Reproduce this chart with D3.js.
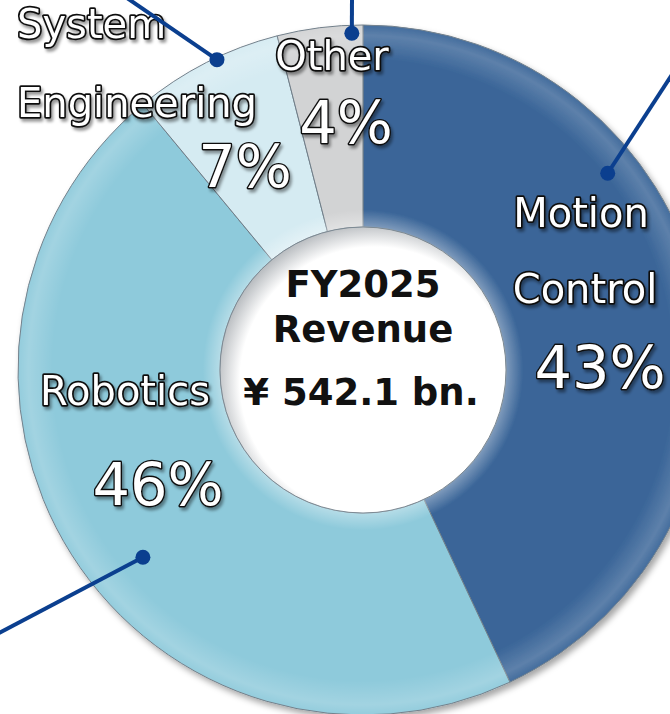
<!DOCTYPE html>
<html lang="en">
<head>
    <meta charset="UTF-8">
    <title>FY2025 Revenue by Segment</title>
    <style>
        body {
            margin: 0;
            padding: 0;
            background: #ffffff;
            overflow: hidden;
        }
        .seg-label {
            font-family: "DejaVu Sans", Verdana, sans-serif;
            fill: #ffffff;
            stroke: #111111;
            stroke-width: 3.4px;
            paint-order: stroke;
            stroke-linejoin: round;
        }
        .center-label {
            font-family: "DejaVu Sans", Verdana, sans-serif;
            font-weight: bold;
            fill: #111111;
            text-anchor: middle;
        }
    </style>
</head>
<body>
    <svg id="chart"></svg>
    <script src="https://d3js.org/d3.v7.min.js"></script>
    <script>
        // Data
        const segments = ["Motion Control", "Robotics", "System Engineering", "Other"];
        const shares = [43, 46, 7, 4];
        const labelLines = [["Motion", "Control"], ["Robotics"], ["System", "Engineering"], ["Other"]];
        const centerTitle = ["FY2025", "Revenue"];
        const totalLabel = "¥ 542.1 bn.";

        const width = 670;
        const height = 714;
        const cx = 363, cy = 370;
        const outerRadius = 345;
        const innerRadius = 143;

        const colors = ["#3a6598", "#8ecadb", "#d5ebf2", "#d2d3d4"];

        // label placement (relative to center), one entry per segment
        const nameLayout = [
            { anchor: "middle", pos: [[218, -143], [222, -67]] },
            { anchor: "middle", pos: [[-238, 35]] },
            { anchor: "start", pos: [[-346, -332], [-346, -253]] },
            { anchor: "middle", pos: [[-31, -300]] }
        ];
        const pctLayout = [[237, 18], [-205, 135], [-118, -183], [-17, -227]];

        // leader lines: dot (angle in degrees, radius) and far end (relative)
        const leaders = [
            { angle: 51.2, r: 314, end: [312, -300] },
            { angle: 229.6, r: 289, end: [-366, 264] },
            { angle: 334.8, r: 343, end: [-236, -372] },
            { angle: 358.1, r: 337, end: [-11, -372] }
        ];

        const svg = d3.select("#chart")
            .attr("width", width)
            .attr("height", height);

        const defs = svg.append("defs");

        const shadow = defs.append("filter").attr("id", "ringShadow")
            .attr("x", "-10%").attr("y", "-10%").attr("width", "125%").attr("height", "125%");
        shadow.append("feDropShadow")
            .attr("dx", 3).attr("dy", 4).attr("stdDeviation", 3)
            .attr("flood-color", "#000").attr("flood-opacity", 0.35);

        const textShadow = defs.append("filter").attr("id", "textShadow")
            .attr("x", "-10%").attr("y", "-20%").attr("width", "130%").attr("height", "150%");
        textShadow.append("feDropShadow")
            .attr("dx", 2).attr("dy", 3).attr("stdDeviation", 1.8)
            .attr("flood-color", "#000").attr("flood-opacity", 0.4);

        // bevel highlight across the ring (user space of the centred group)
        const bevel = defs.append("radialGradient").attr("id", "bevel")
            .attr("gradientUnits", "userSpaceOnUse")
            .attr("cx", 0).attr("cy", 0).attr("r", outerRadius);
        [[innerRadius / outerRadius, 0.35], [innerRadius / outerRadius + 0.05, 0.0],
         [0.9, 0.0], [0.97, 0.18], [1, 0.05]].forEach(s => {
            bevel.append("stop").attr("offset", s[0])
                .attr("stop-color", "#ffffff").attr("stop-opacity", s[1]);
        });

        const holeGrad = defs.append("radialGradient").attr("id", "hole")
            .attr("cx", "0.54").attr("cy", "0.54").attr("r", "0.56");
        holeGrad.append("stop").attr("offset", 0.84).attr("stop-color", "#ffffff");
        holeGrad.append("stop").attr("offset", 1).attr("stop-color", "#b4b8bc");

        const g = svg.append("g")
            .attr("transform", "translate(" + cx + "," + cy + ")");

        const pie = d3.pie().sort(null).value(d => d);
        const arcs = pie(shares);

        const arc = d3.arc()
            .innerRadius(innerRadius)
            .outerRadius(outerRadius);

        const ring = g.append("g").attr("filter", "url(#ringShadow)");

        ring.selectAll("path.slice")
            .data(arcs)
            .enter().append("path")
            .attr("class", "slice")
            .attr("d", arc)
            .style("fill", (d, i) => colors[i])
            .style("stroke", "#6f7d88")
            .style("stroke-width", 1);

        ring.selectAll("path.gloss")
            .data(arcs)
            .enter().append("path")
            .attr("class", "gloss")
            .attr("d", arc)
            .style("fill", "url(#bevel)");

        g.append("circle")
            .attr("r", innerRadius)
            .style("fill", "url(#hole)")
            .style("stroke", "#7d8a94")
            .style("stroke-width", 1);

        // segment names and shares
        const labelsG = g.append("g").attr("filter", "url(#textShadow)");
        segments.forEach((s, i) => {
            labelLines[i].forEach((line, j) => {
                labelsG.append("text")
                    .attr("class", "seg-label")
                    .attr("x", nameLayout[i].pos[j][0])
                    .attr("y", nameLayout[i].pos[j][1])
                    .attr("text-anchor", nameLayout[i].anchor)
                    .style("font-size", "40px")
                    .text(line);
            });
            labelsG.append("text")
                .attr("class", "seg-label")
                .attr("x", pctLayout[i][0])
                .attr("y", pctLayout[i][1])
                .attr("text-anchor", "middle")
                .style("font-size", "59px")
                .style("stroke-width", "2.8px")
                .text(shares[i] + "%");
        });

        // leader lines on top of the labels
        const leaderG = g.append("g");
        leaders.forEach(l => {
            const a = l.angle * Math.PI / 180;
            const x = Math.sin(a) * l.r, y = -Math.cos(a) * l.r;
            leaderG.append("line")
                .attr("x1", x).attr("y1", y)
                .attr("x2", l.end[0]).attr("y2", l.end[1])
                .style("stroke", "#0b3f8f")
                .style("stroke-width", 4);
            leaderG.append("circle")
                .attr("cx", x).attr("cy", y).attr("r", 7.5)
                .style("fill", "#0b3f8f");
        });

        // center text
        g.append("text").attr("class", "center-label")
            .attr("y", -73).style("font-size", "37px").text(centerTitle[0]);
        g.append("text").attr("class", "center-label")
            .attr("y", -28).style("font-size", "37px").text(centerTitle[1]);
        g.append("text").attr("class", "center-label")
            .attr("x", -2).attr("y", 35).style("font-size", "37px").text(totalLabel);
    </script>
</body>
</html>
